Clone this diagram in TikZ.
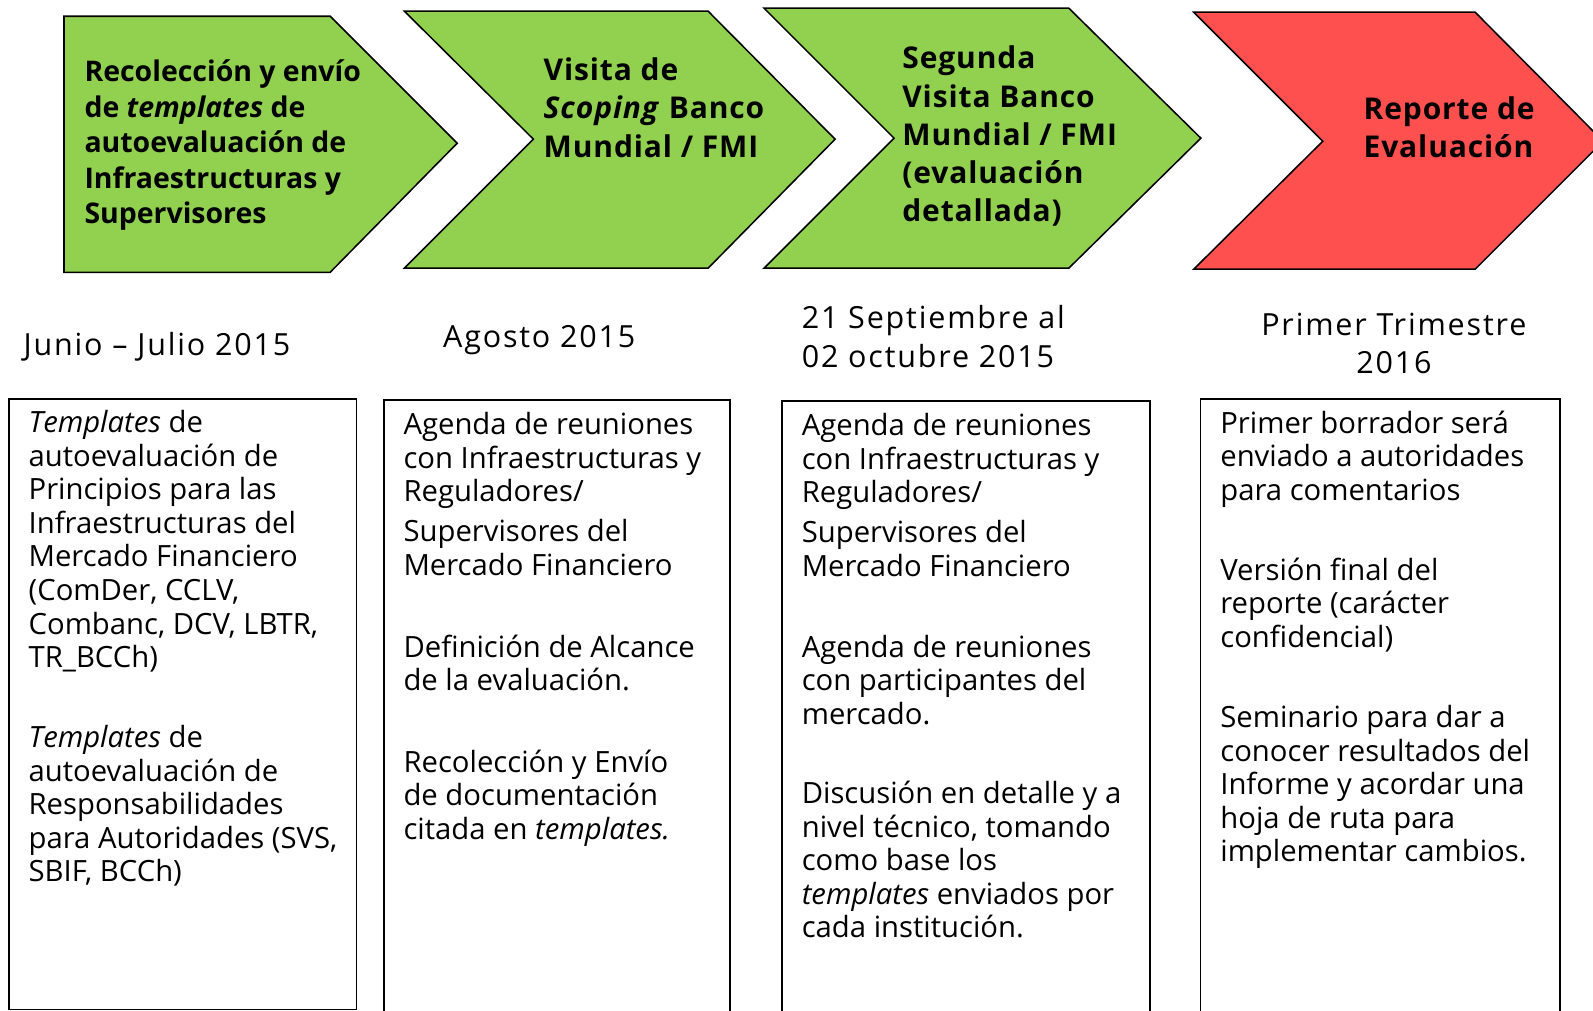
\documentclass[tikz,border=0pt]{standalone}
\usepackage{fontspec}
\setmainfont{Open Sans}
\usetikzlibrary{positioning}
\definecolor{stepgreen}{HTML}{92D050}
\definecolor{stepred}{HTML}{FF5050}
\tikzstyle{chevgreen}=[draw=black, fill=stepgreen, line width=1.5pt]
\tikzstyle{chevred}=[draw=black, fill=stepred, line width=1.5pt]
\tikzstyle{steptext}=[anchor=west, align=left, inner sep=0pt, font=\bfseries\fontsize{29.5}{37.5}\selectfont\addfontfeature{LetterSpace=3}]
\tikzstyle{datetext}=[anchor=west, align=left, inner sep=0pt, font=\fontsize{30}{38}\selectfont\addfontfeature{LetterSpace=6}]
\tikzstyle{infobox}=[rectangle, draw=black, line width=1.5pt, anchor=north west, inner sep=0pt]
\tikzstyle{infotext}=[align=left, inner sep=0pt, font=\fontsize{28.8}{33}\selectfont]

\begin{document}
\begin{tikzpicture}[x=1pt, y=-1pt]

    \useasboundingbox (0,0) rectangle (1568,995);

% Chevrons
    \draw[chevgreen] (63,16) -- (325,16) -- (450,141) -- (325,268) -- (63,268) -- cycle;
    \draw[chevgreen] (398,11) -- (697,11) -- (822,137) -- (697,264) -- (398,264) -- (525,137) -- cycle;
    \draw[chevgreen] (752,8) -- (1052,8) -- (1182,136) -- (1052,264) -- (752,264) -- (880,136) -- cycle;
    \draw[chevred] (1175,12) -- (1452,12) -- (1578,139) -- (1452,265) -- (1175,265) -- (1302,139) -- cycle;

    \node (recol) [steptext, font=\bfseries\fontsize{28}{35}\selectfont] at (83,143) {Recolección y envío\\de \textit{templates} de\\autoevaluación de\\Infraestructuras y\\Supervisores};
    \node (scoping) [steptext] at (535,106) {Visita de\\\textit{Scoping} Banco\\Mundial / FMI};
    \node (segunda) [steptext] at (888,134) {Segunda\\Visita Banco\\Mundial / FMI\\(evaluación\\detallada)};
    \node (reporte) [steptext] at (1342,125) {Reporte de\\Evaluación};

% Dates
    \node (junio) [datetext] at (23,341) {Junio – Julio 2015};
    \node (agosto) [datetext] at (436,335) {Agosto 2015};
    \node (sept) [datetext] at (789,331) {21 Septiembre al\\02 octubre 2015};
    \node (trim) [datetext, anchor=center, align=center] at (1372,338) {Primer Trimestre\\2016};

% Boxes
    \node (info1) [infobox, minimum width=342pt, minimum height=601pt] at (8,392) {};
    \node (info2) [infobox, minimum width=341pt, minimum height=603pt] at (377,393) {};
    \node (info3) [infobox, minimum width=362pt, minimum height=610pt] at (769,394) {};
    \node (info4) [infobox, minimum width=354pt, minimum height=610pt] at (1181,392) {};

    \node (txt1) [infotext, below right=12pt and 20pt of info1.north west] {\textit{Templates} de\\autoevaluación de\\Principios para las\\Infraestructuras del\\Mercado Financiero\\(ComDer, CCLV,\\Combanc, DCV, LBTR,\\TR\_BCCh)\\[46pt]\textit{Templates} de\\autoevaluación de\\Responsabilidades\\para Autoridades (SVS,\\SBIF, BCCh)};
    \node (txt2) [infotext, below right=13pt and 20pt of info2.north west] {Agenda de reuniones\\con Infraestructuras y\\Reguladores/\\[6pt]Supervisores del\\Mercado Financiero\\[48pt]Definición de Alcance\\de la evaluación.\\[47pt]Recolección y Envío\\de documentación\\citada en \textit{templates.}};
    \node (txt3) [infotext, below right=13pt and 20pt of info3.north west] {Agenda de reuniones\\con Infraestructuras y\\Reguladores/\\[6pt]Supervisores del\\Mercado Financiero\\[47pt]Agenda de reuniones\\con participantes del\\mercado.\\[45pt]Discusión en detalle y a\\nivel técnico, tomando\\como base los\\\textit{templates} enviados por\\cada institución.};
    \node (txt4) [infotext, below right=12pt and 20pt of info4.north west] {Primer borrador será\\enviado a autoridades\\para comentarios\\[46pt]Versión final del\\reporte (carácter\\confidencial)\\[46pt]Seminario para dar a\\conocer resultados del\\Informe y acordar una\\hoja de ruta para\\implementar cambios.};

\end{tikzpicture}
\end{document}
